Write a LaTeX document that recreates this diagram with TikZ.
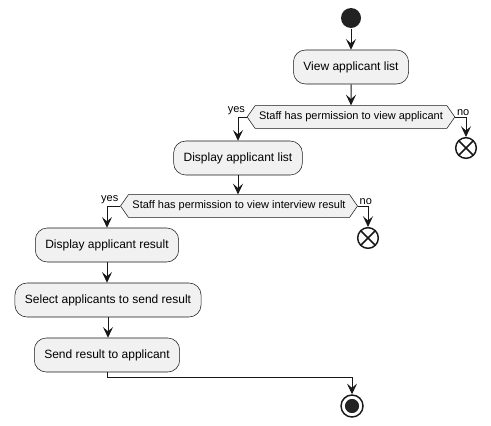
\documentclass[tikz,border=0pt]{standalone}
\usepackage{fontspec}
\setmainfont{Liberation Sans}
\usetikzlibrary{arrows.meta,shapes.symbols,positioning}
\definecolor{actfill}{HTML}{F1F1F1}
\definecolor{plline}{HTML}{181818}
\definecolor{dotfill}{HTML}{222222}
\tikzset{every picture/.style={line width=0.75pt}}

\begin{document}
\begin{tikzpicture}[x=0.75pt,y=0.75pt,yscale=-1,xscale=1,
  activity/.style={draw=plline, line width=0.4pt, fill=actfill, rounded corners=9pt,
    minimum height=25.5pt, inner xsep=7.5pt, font=\fontsize{9}{11}\selectfont},
  decision/.style={draw=plline, line width=0.4pt, fill=actfill, signal, signal to=west and east,
    signal pointer angle=110, minimum height=17pt, inner xsep=3pt, inner ysep=1pt,
    font=\fontsize{8.25}{10}\selectfont},
  guard/.style={font=\fontsize{8.25}{10}\selectfont, inner sep=1pt},
  flow/.style={draw=plline, -{Stealth[length=8pt,width=7.5pt,inset=3.2pt]}},
  stopnode/.style={circle, draw=plline, line width=1.1pt, fill=white, minimum size=15.5pt, inner sep=0pt,
    path picture={\draw[plline, line width=1.1pt] (path picture bounding box.north west) -- (path picture bounding box.south east)
      (path picture bounding box.north east) -- (path picture bounding box.south west);}},
]
\useasboundingbox (0,0) rectangle (491,425);

% Start
\node[circle, fill=dotfill, minimum size=15pt, inner sep=0pt] (start) at (351,18) {};

% Text Node
\node[activity] (viewlist) at (351,67) {View applicant list};
% Decision
\node[decision] (permlist) at (351,117) {Staff has permission to view applicant};
\node[guard, anchor=south east] (yeslist) at (permlist.west) {yes};
\node[guard, anchor=south west] (nolist) at (permlist.east) {no};
\node[stopnode] (stoplist) at (466,148) {};
% Text Node
\node[activity] (showlist) at (238,158) {Display applicant list};
% Decision
\node[decision] (permresult) at (239,206) {Staff has permission to view interview result};
\node[guard, anchor=south east] (yesresult) at (permresult.west) {yes};
\node[guard, anchor=south west] (noresult) at (permresult.east) {no};
\node[stopnode] (stopresult) at (368,238) {};
% Text Node
\node[activity] (showresult) at (107,245) {Display applicant result};
\node[activity] (selectapp) at (108,300) {Select applicants to send result};
\node[activity] (sendresult) at (107,355) {Send result to applicant};

% End
\node[circle, draw=plline, line width=1.1pt, fill=white, minimum size=16.5pt, inner sep=0pt,
  path picture={\fill[dotfill] (path picture bounding box.center) circle (5.3pt);}] (finish) at (352,406) {};

% Connection
\draw[flow] (start) -- (viewlist);
\draw[flow] (viewlist) -- (permlist);
\draw[flow] (permlist.west) -| (showlist.north);
\draw[flow] (permlist.east) -| (stoplist.north);
\draw[flow] (showlist) -- (showlist |- permresult.north);
\draw[flow] (permresult.west) -| (showresult.north);
\draw[flow] (permresult.east) -| (stopresult.north);
\draw[flow] (showresult) -- (showresult |- selectapp.north);
\draw[flow] (selectapp) -- (selectapp |- sendresult.north);
\draw[flow] (sendresult.south) -- ++(0,5) -| (finish.north);

\end{tikzpicture}
\end{document}
